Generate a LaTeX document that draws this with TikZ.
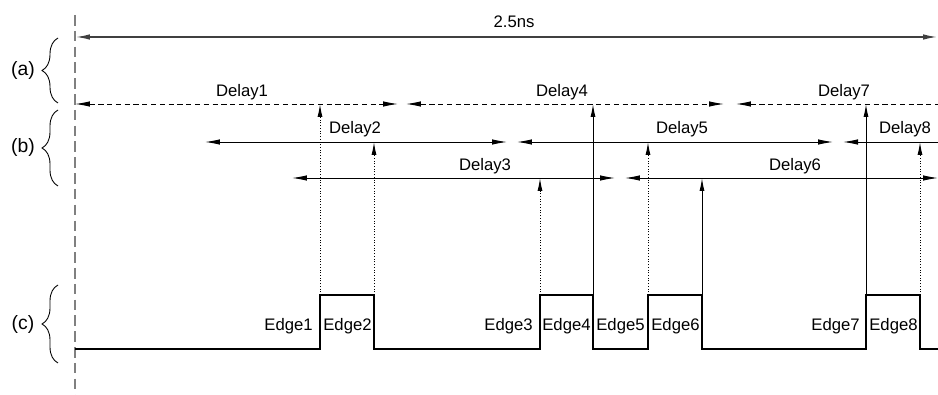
\documentclass[tikz,border=0pt]{standalone}
\usepackage{fontspec}
\setmainfont{Liberation Sans}
\usetikzlibrary{arrows.meta,decorations.pathreplacing}

\begin{document}
\begin{tikzpicture}[x=0.02cm, y=-0.02cm, every node/.style={inner sep=0pt, font=\fontsize{9.5}{11}\selectfont}]
			\tikzstyle{mydelaystyle} = [{Latex[length=3mm,width=1.1mm]}-{Latex[length=3mm,width=1.1mm]}, line width=0.55pt]
			\tikzstyle{myedgestyle} = [-{Latex[length=2.6mm,width=1mm]}, line width=0.55pt]
			\tikzstyle{mybracestyle} = [decorate, decoration={brace, amplitude=3.2mm}, line width=0.5pt]
			\useasboundingbox (0,0) rectangle (938,395);
			
			% time axis and 2.5ns window
			\coordinate (Z1) at (75,15);
			\coordinate (Z2) at (75,395);
			\draw [gray, dash pattern=on 6pt off 3pt, line width=0.7pt] (Z1) -- (Z2);
			\coordinate (T1) at (75,37);
			\coordinate (T2) at (938,37);
			\draw [mydelaystyle, line width=1pt, black!75] (T1) -- (T2);
			\node [anchor=base] (T) at (514,28) {2.5ns};
			
			% braces
			\draw [mybracestyle] (58,103) -- (58,38) node [midway, xshift=-0.7cm, font=\fontsize{11}{13}\selectfont] (La) {(a)};
			\draw [mybracestyle] (58,186) -- (58,110) node [midway, xshift=-0.7cm, font=\fontsize{11}{13}\selectfont] (Lb) {(b)};
			\draw [mybracestyle] (58,363) -- (58,285) node [midway, xshift=-0.7cm, font=\fontsize{11}{13}\selectfont] (Lc) {(c)};
			
			% delay rows
			\coordinate (D1a) at (75,104);  \coordinate (D1b) at (398,104);
			\coordinate (D4a) at (406,104); \coordinate (D4b) at (724,104);
			\coordinate (D7a) at (736,104); \coordinate (D7b) at (938,104);
			\coordinate (D2a) at (205,142); \coordinate (D2b) at (507,142);
			\coordinate (D5a) at (517,142); \coordinate (D5b) at (833,142);
			\coordinate (D8a) at (843,142); \coordinate (D8b) at (938,142);
			\coordinate (D3a) at (292,178); \coordinate (D3b) at (615,178);
			\coordinate (D6a) at (625,178); \coordinate (D6b) at (938,178);
			
			\draw [mydelaystyle, densely dashed] (D1a) -- (D1b);
			\draw [mydelaystyle, densely dashed] (D4a) -- (D4b);
			\draw [{Latex[length=3mm,width=1.1mm]}-, line width=0.55pt, densely dashed] (D7a) -- (D7b);
			\draw [mydelaystyle] (D2a) -- (D2b);
			\draw [mydelaystyle] (D5a) -- (D5b);
			\draw [{Latex[length=3mm,width=1.1mm]}-, line width=0.55pt] (D8a) -- (D8b);
			\draw [mydelaystyle] (D3a) -- (D3b);
			\draw [mydelaystyle] (D6a) -- (D6b);
			
			\node [anchor=base] (N1) at (242,97) {Delay1};
			\node [anchor=base] (N4) at (562,97) {Delay4};
			\node [anchor=base] (N7) at (844,97) {Delay7};
			\node [anchor=base] (N2) at (355,134) {Delay2};
			\node [anchor=base] (N5) at (682,134) {Delay5};
			\node [anchor=base] (N8) at (905,134) {Delay8};
			\node [anchor=base] (N3) at (485,171) {Delay3};
			\node [anchor=base] (N6) at (795,171) {Delay6};
			
			% waveform (c)
			\coordinate (W0) at (75,349);
			\coordinate (E1) at (320,295);
			\coordinate (E2) at (374,295);
			\coordinate (E3) at (540,295);
			\coordinate (E4) at (593,295);
			\coordinate (E5) at (648,295);
			\coordinate (E6) at (702,295);
			\coordinate (E7) at (866,295);
			\coordinate (E8) at (920,295);
			\coordinate (W9) at (938,349);
			\draw [line width=0.8pt] (W0) -| (E1) -- (E2) -- (E2 |- W0) -| (E3) -- (E4) -- (E4 |- W0) -| (E5) -- (E6) -- (E6 |- W0) -| (E7) -- (E8) -- (E8 |- W0) -- (W9);
			
			\draw [myedgestyle, densely dotted] (E1) -- (E1 |- D1a);
			\draw [myedgestyle, densely dotted] (E2) -- (E2 |- D2a);
			\draw [myedgestyle, densely dotted] (E3) -- (E3 |- D3a);
			\draw [myedgestyle] (E4) -- (E4 |- D4a);
			\draw [myedgestyle, densely dotted] (E5) -- (E5 |- D5a);
			\draw [myedgestyle] (E6) -- (E6 |- D6a);
			\draw [myedgestyle] (E7) -- (E7 |- D7a);
			\draw [myedgestyle, densely dotted] (E8) -- (E8 |- D8a);
			
			\node [anchor=base east] (G1) at (313,331) {Edge1};
			\node [anchor=base west] (G2) at (323,331) {Edge2};
			\node [anchor=base east] (G3) at (533,331) {Edge3};
			\node [anchor=base west] (G4) at (542,331) {Edge4};
			\node [anchor=base west] (G5) at (596,331) {Edge5};
			\node [anchor=base west] (G6) at (651,331) {Edge6};
			\node [anchor=base east] (G7) at (860,331) {Edge7};
			\node [anchor=base west] (G8) at (869,331) {Edge8};
			
\end{tikzpicture}
\end{document}
